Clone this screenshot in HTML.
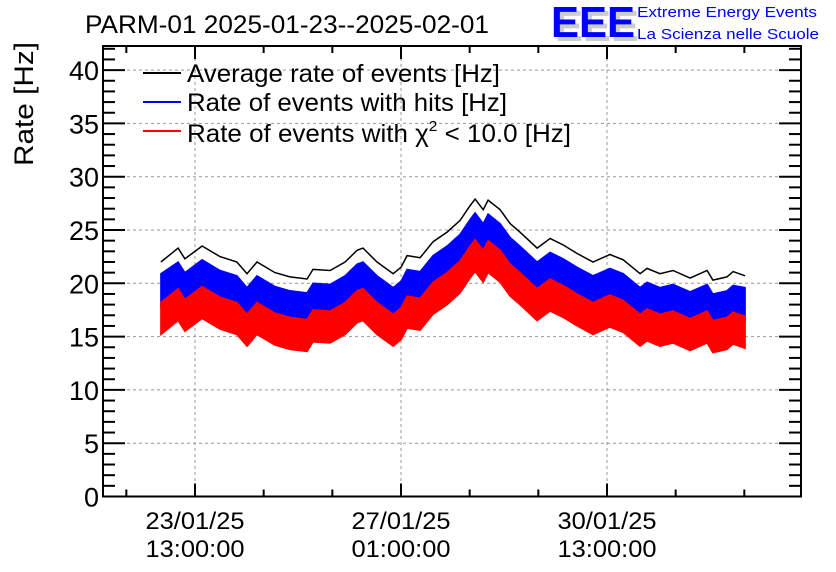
<!DOCTYPE html>
<html><head><meta charset="utf-8"><style>
html,body{margin:0;padding:0;background:#fff;}
svg{display:block;font-family:"Liberation Sans",sans-serif;}
</style></head><body>
<svg id="chart" width="836" height="572" viewBox="0 0 836 572" xmlns="http://www.w3.org/2000/svg">
<text x="85" y="33" font-size="25" textLength="404" lengthAdjust="spacingAndGlyphs">PARM-01 2025-01-23--2025-02-01</text>
<g>
<text x="555" y="41" font-size="44" font-weight="bold" fill="#ccc" textLength="84" lengthAdjust="spacingAndGlyphs">EEE</text>
<text x="551" y="37" font-size="44" font-weight="bold" fill="#0000ff" textLength="84" lengthAdjust="spacingAndGlyphs">EEE</text>
<text x="637" y="17" font-size="15" fill="#0000ff" textLength="180" lengthAdjust="spacingAndGlyphs">Extreme Energy Events</text>
<text x="637" y="39" font-size="15" fill="#0000ff" textLength="182" lengthAdjust="spacingAndGlyphs">La Scienza nelle Scuole</text>
</g>
<text transform="translate(33,166) rotate(-90)" font-size="27" textLength="124" lengthAdjust="spacingAndGlyphs">Rate [Hz]</text>
<g id="grid"></g>
<g id="series"></g>
<g id="axes"></g>
<g>
<line x1="143" y1="73" x2="181" y2="73" stroke="#000" stroke-width="2"/>
<text x="187" y="82" font-size="25" textLength="313" lengthAdjust="spacingAndGlyphs">Average rate of events [Hz]</text>
<line x1="143" y1="102" x2="181" y2="102" stroke="#0000ff" stroke-width="2"/>
<text x="187" y="111" font-size="25" textLength="320" lengthAdjust="spacingAndGlyphs">Rate of events with hits [Hz]</text>
<line x1="143" y1="131" x2="181" y2="131" stroke="#ff0000" stroke-width="2"/>
<text x="187" y="142" font-size="25" textLength="384" lengthAdjust="spacingAndGlyphs">Rate of events with <tspan>χ</tspan><tspan font-size="15" dy="-11">2</tspan><tspan dy="11"> &lt; 10.0 [Hz]</tspan></text>
</g>
</svg>
<script>
const hours=[-0.9,6.1,8.9,15.9,23.2,30.1,34.2,38.3,45.6,51.7,58.7,61.1,68.1,74.2,79.1,81.5,87.2,93.8,97.0,99.5,104.8,110.1,115.8,121.1,125.2,127.2,130.5,132.5,137.4,141.5,145.5,152.5,157.8,163.1,168.8,175.3,182.2,187.6,194.5,197.3,202.6,207.9,214.9,221.8,224.2,229.9,232.4,237.3];
const avgRate=[22.0,23.3,22.3,23.5,22.5,22.0,20.9,22.0,21.0,20.6,20.4,21.3,21.2,22.0,23.1,23.3,22.0,20.9,21.5,22.6,22.4,23.9,24.8,25.9,27.3,27.9,26.9,27.8,26.9,25.6,24.8,23.3,24.2,23.6,22.8,22.0,22.7,22.2,20.9,21.4,20.9,21.2,20.5,21.2,20.3,20.6,21.1,20.7];
const hitsUpper=[20.9,22.0,21.0,22.2,21.2,20.7,19.6,20.7,19.7,19.3,19.1,20.0,19.9,20.7,21.8,22.0,20.7,19.6,20.2,21.3,21.1,22.6,23.5,24.6,26.0,26.6,25.6,26.5,25.6,24.3,23.5,22.0,22.9,22.3,21.5,20.7,21.4,20.9,19.6,20.1,19.6,19.9,19.2,19.9,19.0,19.3,19.8,19.6];
const hitsLower=[17.8,19.1,18.1,19.3,18.3,17.8,16.7,17.8,16.8,16.4,16.2,17.1,17.0,17.8,18.9,19.1,17.8,16.7,17.3,18.4,18.2,19.7,20.6,21.7,23.1,23.7,22.7,23.6,22.7,21.4,20.6,19.1,20.0,19.4,18.6,17.8,18.5,18.0,16.7,17.2,16.7,17.0,16.3,17.0,16.1,16.4,16.9,16.5];
const chiUpper=[18.2,19.5,18.5,19.7,18.7,18.2,17.1,18.2,17.2,16.8,16.6,17.5,17.4,18.2,19.3,19.5,18.2,17.1,17.7,18.8,18.6,20.1,21.0,22.1,23.5,24.1,23.1,24.0,23.1,21.8,21.0,19.5,20.4,19.8,19.0,18.2,18.9,18.4,17.1,17.6,17.1,17.4,16.7,17.4,16.5,16.8,17.3,16.9];
const chiLower=[15.2,16.5,15.5,16.7,15.7,15.2,14.1,15.2,14.2,13.8,13.6,14.5,14.4,15.2,16.3,16.5,15.2,14.1,14.7,15.8,15.6,17.1,18.0,19.1,20.5,21.1,20.1,21.0,20.1,18.8,18.0,16.5,17.4,16.8,16.0,15.2,15.9,15.4,14.1,14.6,14.1,14.4,13.7,14.4,13.5,13.8,14.3,13.9];
const yTicks=[0,5,10,15,20,25,30,35,40];
const xTickHours=[13,97,181];
const xTickLabels=[["23/01/25","13:00:00"],["27/01/25","01:00:00"],["30/01/25","13:00:00"]];

const L=103,R=801,T=46,B=496.5;
const xS=h=>195+(h-13)*(206/84);
const yS=v=>B-v*10.66;
const NS="http://www.w3.org/2000/svg";
function mk(tag,attrs,parent){const e=document.createElementNS(NS,tag);for(const k in attrs)e.setAttribute(k,attrs[k]);parent.appendChild(e);return e;}
const grid=document.getElementById('grid'),series=document.getElementById('series'),axes=document.getElementById('axes');

yTicks.forEach(v=>{
  if(v>0){const g=mk('line',{x1:L,x2:R,y1:yS(v),y2:yS(v),stroke:'#999','stroke-dasharray':'3,3','stroke-width':1},grid);
  
  }
  const t=mk('text',{x:99,y:yS(v)+10,'font-size':27,'text-anchor':'end'},axes);
  t.textContent=v;
  
  
});
for(let v=0;v<=42;v++){
  const len=v%5===0?22:12;
  mk('line',{x1:L,x2:L+len,y1:yS(v),y2:yS(v),stroke:'#000','stroke-width':2},axes);
  mk('line',{x1:R,x2:R-len,y1:yS(v),y2:yS(v),stroke:'#000','stroke-width':2},axes);
}
xTickHours.forEach((h,i)=>{
  const g=mk('line',{x1:xS(h),x2:xS(h),y1:T,y2:B,stroke:'#999','stroke-dasharray':'3,3','stroke-width':1},grid);
  
  
  xTickLabels[i].forEach((s,j)=>{
    const t=mk('text',{x:xS(h),y:529+j*28,'font-size':24,'text-anchor':'middle',textLength:99,lengthAdjust:'spacingAndGlyphs'},axes);
    t.textContent=s;
    
    
  });
});
for(let k=-1;k<=8;k++){
  const h=13+k*28;const x=xS(h);
  if(x<L||x>R)continue;
  const len=(k%3===0)?13:7;
  mk('line',{x1:x,x2:x,y1:B,y2:B-len,stroke:'#000','stroke-width':2},axes);
  mk('line',{x1:x,x2:x,y1:T,y2:T+len,stroke:'#000','stroke-width':2},axes);
}
const frame=mk('rect',{x:L,y:T,width:R-L,height:B-T,fill:'none',stroke:'#000','stroke-width':2},axes);



function band(up,lo,color,name){
  let d='M'+hours.map((h,i)=>xS(h).toFixed(1)+','+yS(up[i]).toFixed(1)).join('L');
  for(let i=hours.length-1;i>=0;i--)d+='L'+xS(hours[i]).toFixed(1)+','+yS(lo[i]).toFixed(1);
  const p=mk('path',{d:d+'Z',fill:color,stroke:color,'stroke-width':1.5},series);
  
  
}
band(hitsUpper,hitsLower,'#0000ff','hits-rate-series');
band(chiUpper,chiLower,'#ff0000','chi2-rate-series');
const line=mk('polyline',{points:hours.map((h,i)=>xS(h).toFixed(1)+','+yS(avgRate[i]).toFixed(1)).join(' '),fill:'none',stroke:'#000','stroke-width':1.5},series);


</script>
</body></html>
